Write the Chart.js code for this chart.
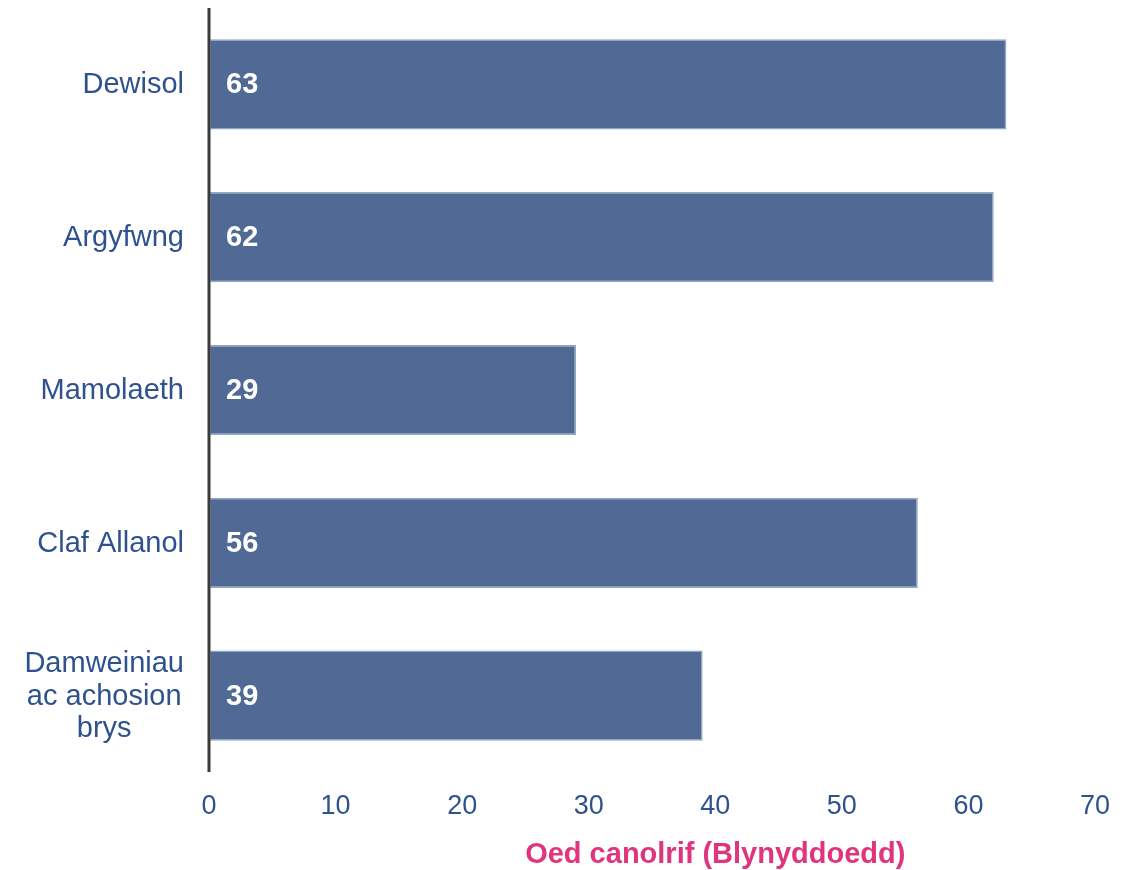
<!DOCTYPE html>
<html>
<head>
<meta charset="utf-8">
<script src="https://cdn.jsdelivr.net/npm/chart.js@4.4.0/dist/chart.umd.min.js"></script>
<style>
  html, body { margin: 0; padding: 0; background: #ffffff; }
  #wrap { width: 1122px; height: 870px; }
</style>
</head>
<body>
<div id="wrap"><canvas id="medianAgeChart"></canvas></div>
<script>
const categories = [['Dewisol'], ['Argyfwng'], ['Mamolaeth'], ['Claf Allanol'], ['Damweiniau', 'ac achosion', 'brys']];
const medianAges = [63, 62, 29, 56, 39];
const xTicks = [0, 10, 20, 30, 40, 50, 60, 70];
const xTitle = 'Oed canolrif (Blynyddoedd)';

const labelBlue = '#2f528f';
const fontFamily = 'Arial, "Liberation Sans", sans-serif';

// category labels: right aligned block, lines centred inside it
const categoryLabels = {
    id: 'categoryLabels',
    afterDraw(chart) {
        const ctx = chart.ctx;
        const yScale = chart.scales.y;
        const right = chart.chartArea.left - 25;
        ctx.save();
        ctx.font = '29px ' + fontFamily;
        ctx.fillStyle = labelBlue;
        ctx.textAlign = 'center';
        ctx.textBaseline = 'middle';
        categories.forEach(function (lines, i) {
            const y = yScale.getPixelForValue(i);
            const w = Math.max.apply(null, lines.map(l => ctx.measureText(l).width));
            const cx = right - w / 2;
            const lh = 32.5;
            const y0 = y - (lines.length - 1) * lh / 2 + 1;
            lines.forEach(function (line, j) {
                ctx.fillText(line, cx, y0 + j * lh);
            });
        });
        ctx.restore();
    }
};

// value labels inside bars, left axis line, axis title
const valueLabels = {
    id: 'valueLabels',
    afterDatasetsDraw(chart) {
        const ctx = chart.ctx;
        const area = chart.chartArea;
        const meta = chart.getDatasetMeta(0);
        ctx.save();
        ctx.strokeStyle = '#3b3b3b';
        ctx.lineWidth = 3;
        ctx.beginPath();
        ctx.moveTo(area.left, area.top);
        ctx.lineTo(area.left, area.bottom);
        ctx.stroke();

        ctx.font = 'bold 29px ' + fontFamily;
        ctx.fillStyle = '#ffffff';
        ctx.textAlign = 'left';
        ctx.textBaseline = 'middle';
        meta.data.forEach(function (bar, i) {
            ctx.fillText(String(medianAges[i]), area.left + 17, bar.y + 1);
        });
        ctx.fillStyle = '#e0357e';
        ctx.textAlign = 'center';
        ctx.fillText(xTitle, chart.scales.x.getPixelForValue(40), 855);
        ctx.restore();
    }
};

const ctx = document.getElementById('medianAgeChart').getContext('2d');

new Chart(ctx, {
    type: 'bar',
    data: {
        labels: categories.map(c => c.join(' ')),
        datasets: [{
            data: medianAges,
            backgroundColor: '#506a95',
            borderColor: '#92a6c6',
            borderWidth: 1.5,
            borderSkipped: false,
            barPercentage: 0.59,
            categoryPercentage: 1.0
        }]
    },
    options: {
        indexAxis: 'y',
        responsive: true,
        maintainAspectRatio: false,
        animation: false,
        layout: { padding: { top: 8, right: 27, left: 0, bottom: 0 } },
        plugins: {
            legend: { display: false },
            tooltip: { enabled: false }
        },
        scales: {
            x: {
                min: 0,
                max: 70,
                afterBuildTicks: function (scale) {
                    scale.ticks = xTicks.map(v => ({ value: v }));
                },
                afterFit: function (scale) {
                    scale.height = 98;
                    scale.paddingRight = 0;
                    scale.paddingLeft = 0;
                },
                grid: { display: false, drawTicks: false },
                border: { display: false },
                ticks: {
                    color: labelBlue,
                    padding: 18,
                    font: { family: fontFamily, size: 27 }
                }
            },
            y: {
                afterFit: function (scale) { scale.width = 209; },
                grid: { display: false, drawTicks: false },
                border: { display: false },
                ticks: { display: false }
            }
        }
    },
    plugins: [categoryLabels, valueLabels]
});
</script>
</body>
</html>
